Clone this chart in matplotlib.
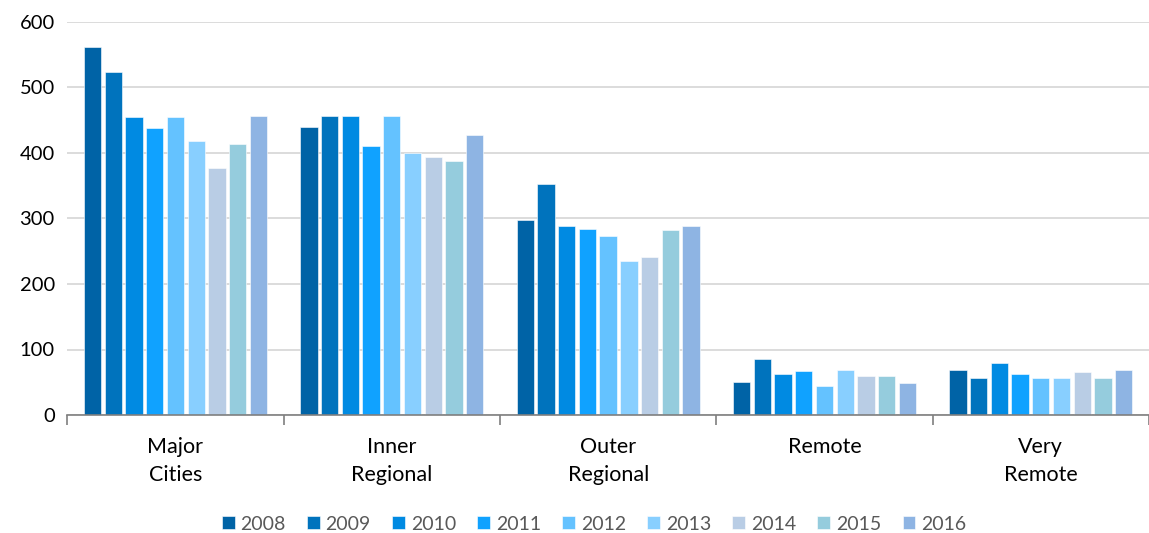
import matplotlib
matplotlib.use("Agg")
import matplotlib.pyplot as plt
import numpy as np

categories = ["Major\nCities", "Inner\nRegional", "Outer\nRegional", "Remote", "Very\nRemote"]
years = ["2008", "2009", "2010", "2011", "2012", "2013", "2014", "2015", "2016"]
v2008 = [562, 440, 297, 51, 68]
v2009 = [524, 457, 352, 85, 57]
v2010 = [455, 456, 289, 63, 79]
v2011 = [438, 410, 284, 67, 63]
v2012 = [455, 456, 273, 44, 57]
v2013 = [419, 400, 235, 69, 56]
v2014 = [377, 394, 241, 60, 66]
v2015 = [414, 388, 283, 60, 57]
v2016 = [457, 427, 289, 49, 69]
series = [v2008, v2009, v2010, v2011, v2012, v2013, v2014, v2015, v2016]
colors = ["#0063A6", "#0073BD", "#008AE2", "#10A2FF", "#64C2FF",
          "#88CFFF", "#B9CDE5", "#95CCDD", "#8EB4E3"]

plt.rcParams['font.family'] = ['Lato', 'DejaVu Sans']
W, H = 1149, 533
fig = plt.figure(figsize=(W / 100, H / 100), dpi=100)
left, right, top, bottom = 67.3, 1149, 22, 415
ax = fig.add_axes([left / W, 1 - bottom / H, (right - left) / W, (bottom - top) / H])

cat_w = 218.4
x = np.arange(len(categories))
step = 20.9 / cat_w
bw = 17.5 / cat_w
for i, (vals, c) in enumerate(zip(series, colors)):
    ax.bar(x + (i - 4) * step, vals, width=bw, color=c, label=years[i],
           edgecolor="white", linewidth=0.4, zorder=3)

ax.set_ylim(0, 600)
ax.set_xlim(-0.5, -0.5 + (right - left) / cat_w)
ax.set_yticks(range(0, 601, 100))
ax.yaxis.grid(True, color="#D9D9D9", linewidth=1.3, zorder=0)
ax.tick_params(axis="y", length=0, labelsize=14.5, pad=9, labelcolor="#000000")
for s in ["top", "right", "left"]:
    ax.spines[s].set_visible(False)
ax.spines["bottom"].set_color("#7F7F7F")
ax.spines["bottom"].set_linewidth(1.2)
ax.spines["bottom"].set_zorder(4)

ax.set_xticks(np.arange(-0.5, len(categories), 1.0))
ax.set_xticklabels([])
ax.tick_params(axis="x", length=7, color="#7F7F7F", width=1.2)
for xi, lab in zip(x, categories):
    ax.text(xi, -33, lab, ha="center", va="top", fontsize=15.5, linespacing=1.55,
            transform=ax.transData, color="#000000")

leg = fig.legend(loc="center", bbox_to_anchor=(0.517, 1 - 524 / H), ncol=9,
                 frameon=False, fontsize=14, handlelength=0.65, handleheight=0.65,
                 handletextpad=0.3, columnspacing=1.1, labelcolor="#595959")

fig.savefig("out.png", dpi=100)
